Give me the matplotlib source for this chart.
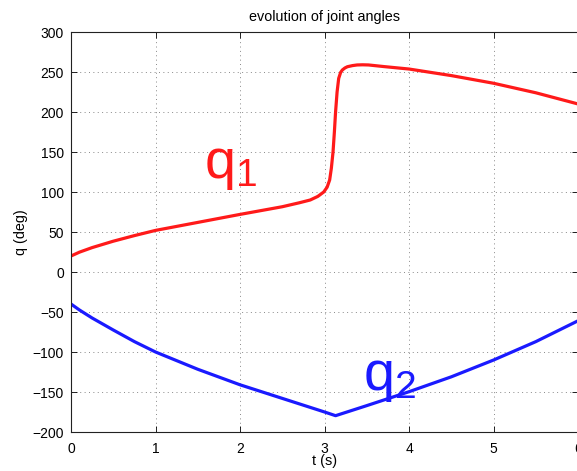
import numpy as np
import matplotlib
matplotlib.use("Agg")
import matplotlib.pyplot as plt

# q1 (red) samples
t1 = [0.0, 0.1, 0.25, 0.5, 0.75, 1.0, 1.5, 2.0, 2.5, 2.7, 2.83, 2.92, 2.99, 3.03, 3.06,
      3.08, 3.10, 3.116, 3.13, 3.148, 3.167, 3.19, 3.21, 3.24, 3.27, 3.33, 3.385, 3.45,
      3.52, 3.7, 4.0, 4.5, 5.0, 5.5, 6.0]
q1 = [20, 24.8, 30.5, 38.5, 45.5, 52, 62, 72, 81.6, 86.5, 90, 94.5, 100, 106, 115,
      129.6, 150, 175, 200, 225, 242, 249.5, 252.5, 255, 256.6, 258, 258.8, 259,
      258.8, 256.8, 253.7, 245.5, 235.9, 224, 210]

# q2 (blue) samples
t2 = [0.0, 0.1, 0.25, 0.5, 0.75, 1.0, 1.5, 2.0, 2.5, 2.75, 3.0, 3.13, 3.5, 4.0, 4.5, 5.0, 5.5, 6.0]
q2 = [-40, -47.5, -57.5, -72.5, -87, -100, -121.6, -141, -158, -166.5, -175, -179.6, -167,
      -149.6, -131, -110, -87, -60.9]

xticks = [0, 1, 2, 3, 4, 5, 6]
yticks = [-200, -150, -100, -50, 0, 50, 100, 150, 200, 250, 300]

plt.rcParams['font.family'] = ['Liberation Sans', 'DejaVu Sans']
plt.rcParams['mathtext.fontset'] = 'dejavusans'

fig = plt.figure(figsize=(5.77, 4.71), dpi=100)
ax = fig.add_axes([71/577, 1-432/471, 506/577 + 0.002, 400/471])

ax.plot(t1, q1, color='#ff1a1a', lw=2.3, solid_joinstyle='round', solid_capstyle='round')
ax.plot(t2, q2, color='#1a1aff', lw=2.3, solid_joinstyle='round', solid_capstyle='round')

ax.set_xlim(0, 6)
ax.set_ylim(-200, 300)
ax.set_xticks(xticks)
ax.set_yticks(yticks)
ax.set_yticklabels([str(v).replace('-', '\u2212') for v in yticks])
ax.tick_params(direction='in', top=True, right=True, labelsize=10, length=4, width=0.6)
ax.tick_params(axis='x', pad=7)
ax.tick_params(axis='y', pad=5)
ax.grid(True, linestyle=(0, (1, 3.5)), color='#888888', linewidth=0.7)
for s in ax.spines.values():
    s.set_linewidth(0.8)
    s.set_color('#222222')

ax.set_title('evolution of joint angles', fontsize=10.4, pad=8)
ax.set_xlabel('t (s)', fontsize=10.4, labelpad=-1)
ax.set_ylabel('q (deg)', fontsize=10.4, labelpad=3)

ax.text(1.57, 118, r'$\mathregular{q_1}$', color='#ff1a1a', fontsize=40, va='baseline')
ax.text(3.45, -147, r'$\mathregular{q_2}$', color='#1a1aff', fontsize=40, va='baseline')

fig.savefig('out.png', dpi=100)
